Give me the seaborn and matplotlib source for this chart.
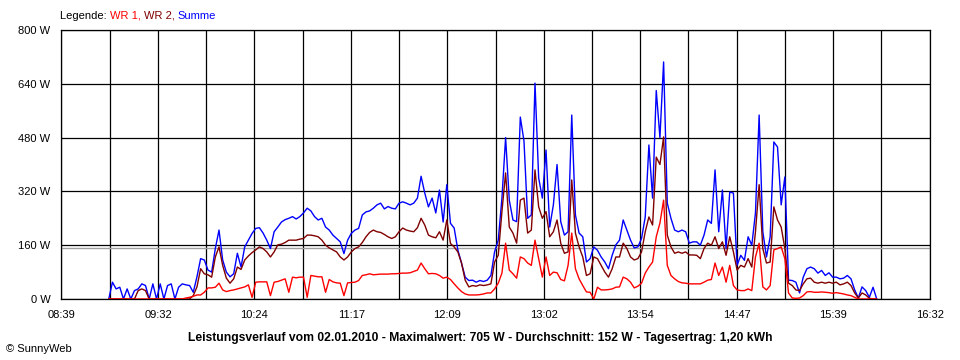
import numpy as np
import pandas as pd
import seaborn as sns
import matplotlib.pyplot as plt

# samples every 2 minutes, starting at 09:05
start_time = "09:05"
step_minutes = 2

summe = [
    0, 50, 30, 35, 0, 30, 0, 25, 30, 45, 40, 0, 45, 0, 45, 0, 40, 45, 0, 35, 45, 42, 40,
    20, 66, 120, 116, 86, 80, 150, 205, 116, 80, 66, 75, 136, 95, 155, 175, 195,
    210, 212, 196, 175, 150, 200, 214, 229, 236, 240, 245, 238, 245, 256, 270, 262, 245, 235, 240, 214,
    205, 190, 180, 170, 135, 175, 195, 205, 210, 250, 259, 262, 270, 280, 285, 268, 275, 270, 268, 285,
    289, 285, 280, 285, 300, 365, 315, 274, 300, 256, 324, 229, 340, 225, 211, 146, 107, 65, 55, 56, 50, 55, 52,
    56, 70, 140, 175, 300, 480, 294, 235, 230, 541, 470, 240, 250, 642, 360, 300, 443, 214, 280, 400,
    230, 190, 200, 547, 250, 196, 185, 110, 120, 155, 145, 125, 110, 90, 130, 161, 175, 235,
    205, 175, 152, 155, 180, 244, 458, 300, 620, 480, 705, 285, 240, 205, 200, 205, 200, 166, 170, 170,
    160, 190, 235, 225, 384, 200, 324, 150, 318, 315, 100, 130, 115, 185, 160,
    256, 547, 200, 125, 185, 467, 452, 280, 363, 56, 55, 50, 18, 65, 90, 95, 90, 77, 85, 70,
    78, 65, 65, 60, 62, 70, 60, 27, 3, 36, 25, 5, 35, 0,
]

wr2 = [
    0, 0, 0, 0, 0, 0, 0, 0, 25, 30, 25, 0, 0, 0, 0, 0, 0, 0, 0, 0, 0, 0, 0,
    10, 36, 90, 75, 72, 65, 125, 155, 100, 62, 47, 60, 95, 88, 116, 128, 138,
    146, 155, 150, 140, 125, 140, 161, 163, 168, 175, 175, 175, 178, 180, 190, 190, 188, 185, 175, 160,
    152, 146, 140, 125, 116, 125, 140, 150, 155, 168, 185, 198, 205, 200, 198, 192, 185, 180, 185, 200,
    211, 205, 202, 200, 212, 240, 220, 190, 185, 182, 200, 175, 235, 165, 155, 140, 107, 56, 36, 40, 38, 42, 40,
    42, 45, 110, 130, 260, 375, 214, 196, 166, 294, 300, 196, 205, 384, 274, 240, 260, 185, 200, 235,
    166, 136, 140, 354, 196, 155, 125, 70, 75, 125, 120, 100, 80, 65, 90, 125, 125, 166,
    150, 125, 116, 120, 140, 200, 244, 220, 422, 400, 482, 190, 155, 136, 140, 136, 140, 131, 131, 130,
    120, 150, 166, 160, 185, 150, 170, 130, 185, 140, 86, 100, 95, 120, 95,
    200, 340, 150, 107, 110, 274, 235, 214, 150, 47, 40, 27, 25, 45, 60, 62, 50, 47, 50, 47,
    50, 47, 50, 42, 45, 50, 40, 18, 3, 18, 12, 2, 0, 0,
]

wr1 = [
    0, 0, 0, 0, 0, 0, 0, 0, 0, 0, 0, 0, 0, 0, 0, 0, 0, 0, 0, 0, 0, 3, 5,
    8, 12, 12, 20, 33, 33, 35, 47, 27, 22, 25, 27, 30, 33, 36, 42, 5,
    50, 51, 51, 51, 10, 50, 52, 56, 60, 20, 65, 63, 65, 65, 5, 70, 68, 66, 66, 20,
    58, 51, 48, 47, 10, 48, 49, 50, 55, 70, 72, 75, 72, 73, 74, 74, 74, 75, 75, 76,
    77, 77, 78, 82, 86, 107, 90, 75, 76, 75, 70, 62, 65, 58, 45, 33, 22, 15, 12, 12, 12, 13, 15,
    18, 18, 30, 47, 77, 166, 86, 75, 62, 125, 120, 107, 100, 175, 120, 65, 125, 70, 80, 78,
    58, 54, 100, 196, 90, 60, 40, 21, 20, 0, 35, 27, 27, 28, 30, 35, 36, 65,
    60, 50, 33, 38, 47, 77, 95, 110, 185, 226, 294, 100, 70, 60, 52, 48, 47, 45, 45, 45,
    45, 50, 56, 58, 107, 70, 95, 50, 100, 40, 27, 25, 25, 30, 25,
    125, 166, 36, 27, 40, 146, 150, 155, 120, 18, 3, 2, 3, 10, 21, 22, 20, 20, 21, 20,
    19, 17, 19, 17, 15, 12, 10, 5, 0, 0, 0, 0, 0, 0,
]

tick_labels = ["08:39", "09:32", "10:24", "11:17", "12:09", "13:02", "13:54", "14:47", "15:39", "16:32"]
y_ticks = [0, 160, 320, 480, 640, 800]
average_w = 152
title_text = ("Leistungsverlauf vom 02.01.2010 - Maximalwert: 705 W - "
              "Durchschnitt: 152 W - Tagesertrag: 1,20 kWh")

colors = {"WR 1": "#ff0000", "WR 2": "#800000", "Summe": "#0000ff"}


def to_minutes(hhmm):
    h, m = hhmm.split(":")
    return int(h) * 60 + int(m)


n = len(summe)
minutes = to_minutes(start_time) + step_minutes * np.arange(n)
df = pd.DataFrame({
    "minute": np.tile(minutes, 3),
    "power": summe + wr2 + wr1,
    "series": ["Summe"] * n + ["WR 2"] * n + ["WR 1"] * n,
})

sns.set_theme(style="white")
plt.rcParams["font.family"] = ["Liberation Sans", "DejaVu Sans"]

W, H = 960, 360
fig = plt.figure(figsize=(W / 100, H / 100), dpi=100)
fig.patch.set_facecolor("white")
ax = fig.add_axes([61 / W, 61 / H, 869 / W, 269 / H])
ax.set_facecolor("white")

# Summe first, red on top
sns.lineplot(data=df, x="minute", y="power", hue="series",
             hue_order=["Summe", "WR 2", "WR 1"], palette=colors,
             estimator=None, linewidth=1.0, legend=False, ax=ax, zorder=3)

# daily average
ax.axhline(average_w, color="#a0a0a0", linewidth=1.0, zorder=2)

major = [to_minutes(t) for t in tick_labels]
minor = [(a + b) / 2 for a, b in zip(major[:-1], major[1:])]
ax.set_xlim(major[0], major[-1])
ax.set_ylim(0, 800)
ax.set_xticks(major, tick_labels)
ax.set_xticks(minor, minor=True)
ax.set_yticks(y_ticks, [f"{v} W" for v in y_ticks])
ax.set_xlabel("")
ax.set_ylabel("")

ax.set_axisbelow(True)
ax.grid(True, which="both", color="black", linewidth=0.9)
ax.tick_params(which="both", direction="out", length=3.6, width=0.9,
               color="black", labelsize=8, labelcolor="black", pad=4)
for s in ax.spines.values():
    s.set_visible(True)
    s.set_color("black")
    s.set_linewidth(0.9)

# coloured legend line at the top left
t = ax.annotate("Legende: ", xy=(60 / W, 1 - 16 / H), xycoords="figure fraction",
                fontsize=8, va="center", ha="left", color="black", annotation_clip=False)
for label, c in [("WR 1, ", colors["WR 1"]), ("WR 2, ", colors["WR 2"]), ("Summe", colors["Summe"])]:
    t = ax.annotate(label, xy=(1, 0), xycoords=t, fontsize=8, va="bottom", ha="left",
                    color=c, annotation_clip=False)

fig.text(0.5, 1 - 338 / H, title_text, ha="center", va="center",
         fontsize=8.7, fontweight="bold", color="black")
fig.text(6 / W, 1 - 349 / H, "© SunnyWeb", ha="left", va="center", fontsize=8, color="black")

fig.savefig("out.png", dpi=100, facecolor="white")
